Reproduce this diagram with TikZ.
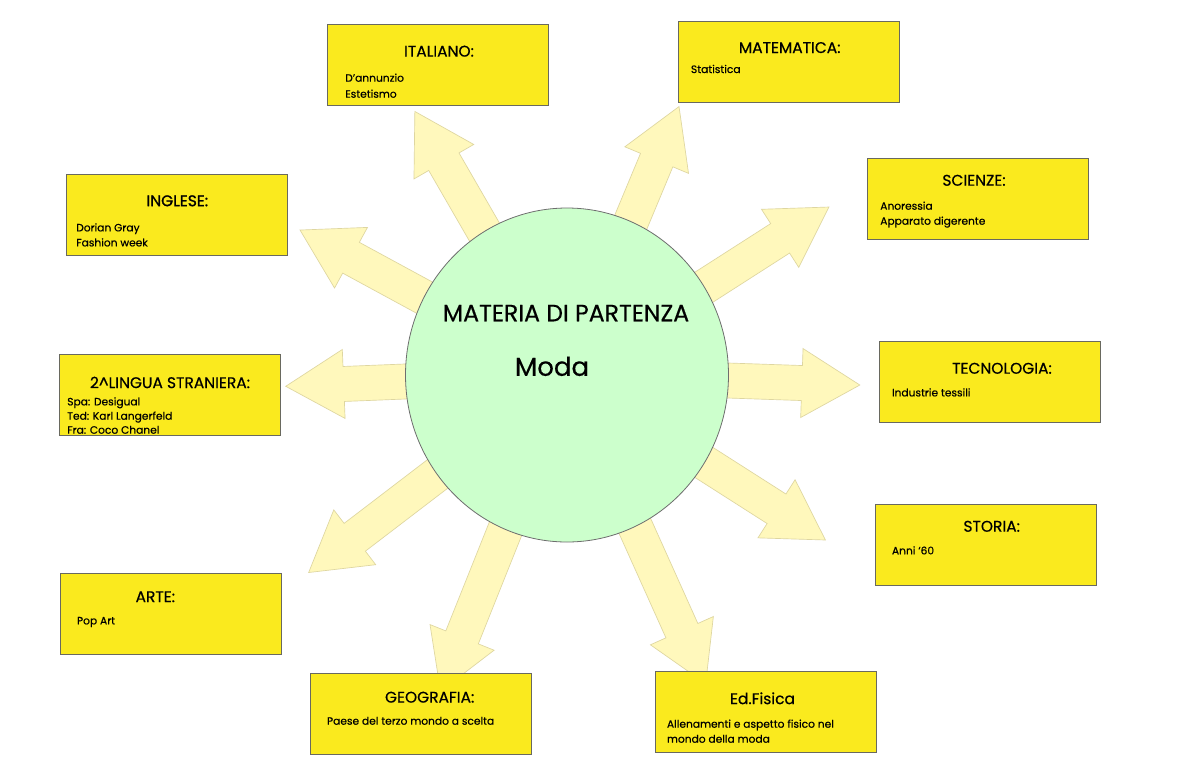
\documentclass[tikz,border=0pt]{standalone}
\usepackage{fontspec}
\setmainfont{Poppins}[FakeBold=0.5]
\newfontfamily\ingfont{Poppins}[FakeBold=1.3]
\definecolor{boxy}{RGB}{250,234,30}
\definecolor{boxline}{RGB}{105,105,95}
\definecolor{arrfill}{RGB}{255,248,188}
\definecolor{arrline}{RGB}{222,214,160}
\definecolor{circfill}{RGB}{204,255,204}
\definecolor{circline}{RGB}{110,110,110}
\tikzset{
  subjbox/.style={draw=boxline, fill=boxy, line width=0.6pt, minimum width=165.75pt,
    minimum height=60.75pt, inner sep=0pt, outer sep=0pt, anchor=north west},
  ttl/.style={inner sep=0pt, anchor=base, font=\fontsize{11.6pt}{13pt}\selectfont},
  bdy/.style={inner sep=0pt, anchor=base west, font=\fontsize{8pt}{10pt}\selectfont},
  sunarr/.style={draw=arrline, fill=arrfill, line width=0.5pt, line join=miter},
  hub/.style={ellipse, draw=circline, fill=circfill, line width=0.6pt,
    minimum width=242.25pt, minimum height=250.5pt, inner sep=0pt},
}
\usetikzlibrary{shapes.geometric}
\newcommand{\sunarrow}[2]{%
  \draw[sunarr, shift={(c)}, rotate=#1]
    (0,-17.5) -- ({#2-58},-17.5) -- ({#2-58},-34.5) -- (#2,0)
    -- ({#2-58},34.5) -- ({#2-58},17.5) -- (0,17.5) -- cycle;}
\begin{document}
\begin{tikzpicture}[x=0.75pt, y=-0.75pt]
\useasboundingbox[fill=white] (0,0) rectangle (1200,768);
\coordinate (c) at (567,375);
% arrows
\sunarrow{120.0}{304.3}
\sunarrow{67.35}{290.9}
\sunarrow{32.67}{311.2}
\sunarrow{-1.96}{293.0}
\sunarrow{-32.56}{306.6}
\sunarrow{-65.8}{338.3}
\sunarrow{-111.8}{340.6}
\sunarrow{217.4}{325.2}
\sunarrow{182.3}{281.5}
\sunarrow{151.5}{303.8}
% hub
\node[hub] (hubnode) at (c) {};
\node[inner sep=0pt, anchor=base, font=\fontsize{17.7pt}{20pt}\selectfont] (hubtitle) at (566,321.3) {MATERIA DI PARTENZA};
\node[inner sep=0pt, anchor=base, font=\fontsize{19.5pt}{22pt}\selectfont] (hubmoda) at (552,375.8) {Moda};
% ITALIANO
\node[subjbox] (ita) at (327,24) {};
\node[ttl] (ita-t) at (439,56.6) {ITALIANO:};
\node[bdy] (ita-1) at (345,81.7) {D’annunzio};
\node[bdy] (ita-2) at (345,97.7) {Estetismo};
% MATEMATICA
\node[subjbox] (mat) at (678,21) {};
\node[ttl] (mat-t) at (789.7,53) {MATEMATICA:};
\node[bdy] (mat-1) at (690.7,73) {Statistica};
% SCIENZE
\node[subjbox] (sci) at (867,158) {};
\node[ttl] (sci-t) at (974,185.7) {SCIENZE:};
\node[bdy] (sci-1) at (880,209.7) {Anoressia};
\node[bdy] (sci-2) at (880,224.7) {Apparato digerente};
% TECNOLOGIA
\node[subjbox] (tec) at (879,341) {};
\node[ttl] (tec-t) at (1002,373.7) {TECNOLOGIA:};
\node[bdy] (tec-1) at (891.7,396.4) {Industrie tessili};
% STORIA
\node[subjbox] (sto) at (875.5,504) {};
\node[ttl] (sto-t) at (991.7,531.7) {STORIA:};
\node[bdy] (sto-1) at (891.7,554.4) {Anni ‘60};
% Ed.Fisica
\node[subjbox] (edf) at (655,671) {};
\node[ttl] (edf-t) at (762.5,704.1) {Ed.Fisica};
\node[bdy] (edf-1) at (666.7,727.7) {Allenamenti e aspetto fisico nel};
\node[bdy] (edf-2) at (666.7,742.7) {mondo della moda};
% GEOGRAFIA
\node[subjbox] (geo) at (310,673) {};
\node[ttl] (geo-t) at (429.7,702.6) {GEOGRAFIA:};
\node[bdy] (geo-1) at (326.7,724.7) {Paese del terzo mondo a scelta};
% ARTE
\node[subjbox] (art) at (60.5,573) {};
\node[ttl] (art-t) at (155.3,602.1) {ARTE:};
\node[bdy] (art-1) at (76.7,624.4) {Pop Art};
% 2^LINGUA STRANIERA
\node[subjbox] (lin) at (59.3,354.5) {};
\node[ttl] (lin-t) at (170,388.1) {2\textasciicircum LINGUA STRANIERA:};
\node[bdy] (lin-1) at (67,405.4) {Spa: Desigual};
\node[bdy] (lin-2) at (67,419.7) {Ted: Karl Langerfeld};
\node[bdy] (lin-3) at (67,433.7) {Fra: Coco Chanel};
% INGLESE
\node[subjbox] (ing) at (66,174.5) {};
\node[ttl, font=\fontsize{11.6pt}{13pt}\selectfont\ingfont] (ing-t) at (177.3,206.2) {INGLESE:};
\node[bdy] (ing-1) at (76,231.4) {Dorian Gray};
\node[bdy] (ing-2) at (76,246.4) {Fashion week};
\end{tikzpicture}
\end{document}
